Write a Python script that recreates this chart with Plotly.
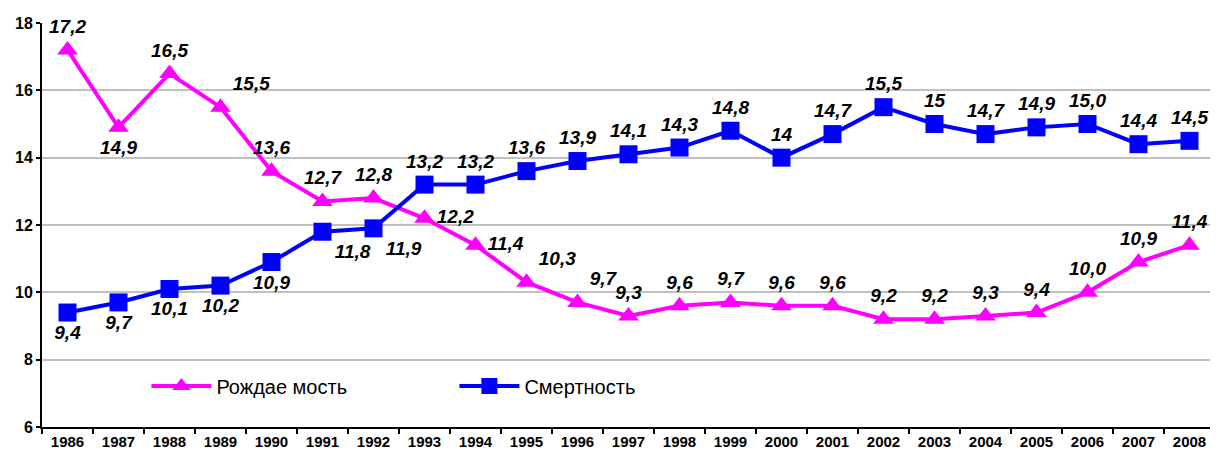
import plotly.graph_objects as go

years = [str(y) for y in range(1986, 2009)]
birth = [17.2, 14.9, 16.5, 15.5, 13.6, 12.7, 12.8, 12.2, 11.4, 10.3, 9.7, 9.3, 9.6,
         9.7, 9.6, 9.6, 9.2, 9.2, 9.3, 9.4, 10.0, 10.9, 11.4]
death = [9.4, 9.7, 10.1, 10.2, 10.9, 11.8, 11.9, 13.2, 13.2, 13.6, 13.9, 14.1, 14.3,
         14.8, 14.0, 14.7, 15.5, 15.0, 14.7, 14.9, 15.0, 14.4, 14.5]
birth_text = ["17,2", "14,9", "16,5", "15,5", "13,6", "12,7", "12,8", "12,2", "11,4", "10,3",
              "9,7", "9,3", "9,6", "9,7", "9,6", "9,6", "9,2", "9,2", "9,3", "9,4", "10,0",
              "10,9", "11,4"]
death_text = ["9,4", "9,7", "10,1", "10,2", "10,9", "11,8", "11,9", "13,2", "13,2", "13,6",
              "13,9", "14,1", "14,3", "14,8", "14", "14,7", "15,5", "15", "14,7", "14,9",
              "15,0", "14,4", "14,5"]

birth_pos = ["top center", "bottom center", "top center", "top right", "top center",
             "top center", "top center", "middle right", "middle right", "top right",
             "top right"] + ["top center"] * 12
death_pos = ["bottom center"] * 5 + ["bottom right", "bottom right"] + ["top center"] * 16

label_font = dict(family="Arial", size=19, color="black")

fig = go.Figure()
fig.add_trace(go.Scatter(
    x=years, y=birth, name="Рождае мость", mode="lines+markers+text",
    line=dict(color="#FF00FF", width=4),
    marker=dict(symbol="triangle-up", size=18, color="#FF00FF"),
    text=["<b><i>%s</i></b>" % t for t in birth_text], textposition=birth_pos,
    textfont=label_font, cliponaxis=False))
fig.add_trace(go.Scatter(
    x=years, y=death, name="Смертность", mode="lines+markers+text",
    line=dict(color="#0000FF", width=4),
    marker=dict(symbol="square", size=18, color="#0000FF"),
    text=["<b><i>%s</i></b>" % t for t in death_text], textposition=death_pos,
    textfont=label_font, cliponaxis=False))

# white backing behind the legend (hides the gridline there, as in the original)
fig.add_shape(type="rect", xref="paper", yref="y", x0=0.039, x1=0.582, y0=7.5, y1=8.5,
              fillcolor="white", line=dict(width=0), layer="between")

fig.update_layout(
    width=1210, height=450,
    margin=dict(l=34, r=3, t=15, b=31),
    paper_bgcolor="white", plot_bgcolor="white",
    font=dict(family="Arial", color="black"),
    showlegend=True,
    legend=dict(orientation="h", x=0.089, y=0.15, xanchor="left", yanchor="top",
                bgcolor="rgba(0,0,0,0)", entrywidth=233, entrywidthmode="pixels",
                font=dict(size=20, family="Arial"), itemwidth=60,
                traceorder="normal"),
    xaxis=dict(type="category", range=[-0.5, 22.5], showgrid=False,
               showline=True, linecolor="black", linewidth=2,
               ticks="outside", tickson="boundaries", ticklen=5, tickcolor="black",
               tickwidth=2,
               tickfont=dict(size=15, family="Arial", color="black"),
               tickprefix="<b>", ticksuffix="</b>"),
    yaxis=dict(range=[6, 18], dtick=2, showgrid=True, gridcolor="#C0C0C0", gridwidth=2,
               showline=True, linecolor="black", linewidth=2,
               ticks="outside", ticklen=4, tickcolor="black", tickwidth=2,
               tickfont=dict(size=16, family="Arial", color="black"),
               tickprefix="<b>", ticksuffix="</b>", zeroline=False),
)

fig.write_html("out.html")
